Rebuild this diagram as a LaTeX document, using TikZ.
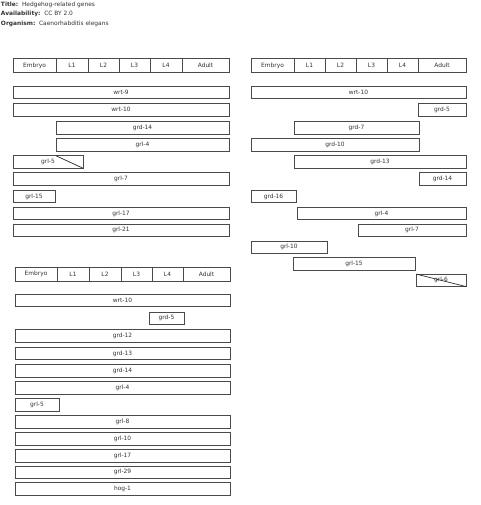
\documentclass[tikz,border=0pt]{standalone}
\usepackage{fontspec}
\setmainfont{DejaVu Sans}
\definecolor{txt}{HTML}{333333}
\definecolor{edge}{HTML}{4A4A4A}
\tikzset{
  lab/.style={font=\fontsize{5.9}{7}\selectfont, text=txt, inner sep=0pt, outer sep=0pt},
  gbox/.style={draw=edge, line width=0.8pt, fill=white, inner sep=0pt, outer sep=0pt,
     minimum height=12.5pt, font=\fontsize{5.9}{7}\selectfont, text=txt},
  hcell/.style={draw=edge, line width=0.8pt, fill=white, inner sep=0pt, outer sep=0pt,
     minimum height=14pt, font=\fontsize{5.9}{7}\selectfont, text=txt},
  diag/.style={draw=black!85, line width=0.7pt}
}
% #1 name, #2 x1, #3 x2, #4 y centre, #5 label
\newcommand\gb[5]{\node[gbox, minimum width={(#3-#2)*1pt}] (#1) at ({(#2+#3)/2}, #4) {#5};}
\newcommand\hc[5]{\node[hcell, minimum width={(#3-#2)*1pt}] (#1) at ({(#2+#3)/2}, #4) {#5};}
\begin{document}
\begin{tikzpicture}[x=1pt, y=-1pt]
\useasboundingbox (0,0) rectangle (480,505);
% title block
\node[lab, anchor=west] (t1) at (1,4.5) {\textbf{Title:}\ \ Hedgehog-related genes};
\node[lab, anchor=west] (t2) at (1,14) {\textbf{Availability:}\ \ CC BY 2.0};
\node[lab, anchor=west] (t3) at (1,24) {\textbf{Organism:}\ \ Caenorhabditis elegans};

% ---------- panel 1 ----------
\hc{aE}{13}{56}{65.5}{Embryo}
\hc{aL1}{56}{88}{65.5}{L1}
\hc{aL2}{88}{119}{65.5}{L2}
\hc{aL3}{119}{150}{65.5}{L3}
\hc{aL4}{150}{182}{65.5}{L4}
\hc{aAd}{182}{229}{65.5}{Adult}
\gb{awrt9}{13}{229}{92.3}{wrt-9}
\gb{awrt10}{13}{229}{109.8}{wrt-10}
\gb{agrd14}{56}{229}{127.8}{grd-14}
\gb{agrl4}{56}{229}{145}{grl-4}
\gb{agrl5}{13}{83}{162}{grl-5}
\coordinate (agrl5d) at (56,155.75);
\draw[diag] (agrl5d) -- (agrl5.south east);
\gb{agrl7}{13}{229}{179}{grl-7}
\gb{agrl15}{13}{55}{196.5}{grl-15}
\gb{agrl17}{13}{229}{213.5}{grl-17}
\gb{agrl21}{13}{229}{230.3}{grl-21}

% ---------- panel 2 ----------
\hc{bE}{251}{294}{65.5}{Embryo}
\hc{bL1}{294}{325}{65.5}{L1}
\hc{bL2}{325}{356}{65.5}{L2}
\hc{bL3}{356}{387}{65.5}{L3}
\hc{bL4}{387}{418}{65.5}{L4}
\hc{bAd}{418}{466}{65.5}{Adult}
\gb{bwrt10}{251}{466}{92.3}{wrt-10}
\gb{bgrd5}{418}{466}{109.8}{grd-5}
\gb{bgrd7}{294}{419}{127.8}{grd-7}
\gb{bgrd10}{251}{419}{145}{grd-10}
\gb{bgrd13}{294}{466}{162}{grd-13}
\gb{bgrd14}{419}{466}{179}{grd-14}
\gb{bgrd16}{251}{296}{196.5}{grd-16}
\gb{bgrl4}{297}{466}{213.5}{grl-4}
\gb{bgrl7}{358}{466}{230.3}{grl-7}
\gb{bgrl10}{251}{327}{247.2}{grl-10}
\gb{bgrl15}{293}{415}{263.8}{grl-15}
\gb{bgrl6}{416}{466}{280.3}{grl-6}
\draw[diag] (bgrl6.north west) -- (bgrl6.south east);

% ---------- panel 3 ----------
\hc{cE}{15}{57}{274}{Embryo}
\hc{cL1}{57}{89}{274}{L1}
\hc{cL2}{89}{121}{274}{L2}
\hc{cL3}{121}{152}{274}{L3}
\hc{cL4}{152}{183}{274}{L4}
\hc{cAd}{183}{230}{274}{Adult}
\gb{cwrt10}{15}{230}{300.5}{wrt-10}
\gb{cgrd5}{149}{184}{318.3}{grd-5}
\gb{cgrd12}{15}{230}{336}{grd-12}
\gb{cgrd13}{15}{230}{353.5}{grd-13}
\gb{cgrd14}{15}{230}{370.7}{grd-14}
\gb{cgrl4}{15}{230}{387.7}{grl-4}
\gb{cgrl5}{15}{59}{404.7}{grl-5}
\gb{cgrl8}{15}{230}{422}{grl-8}
\gb{cgrl10}{15}{230}{439}{grl-10}
\gb{cgrl17}{15}{230}{455.7}{grl-17}
\gb{cgrl29}{15}{230}{472.3}{grl-29}
\gb{choga}{15}{230}{489}{hog-1}
\end{tikzpicture}
\end{document}
